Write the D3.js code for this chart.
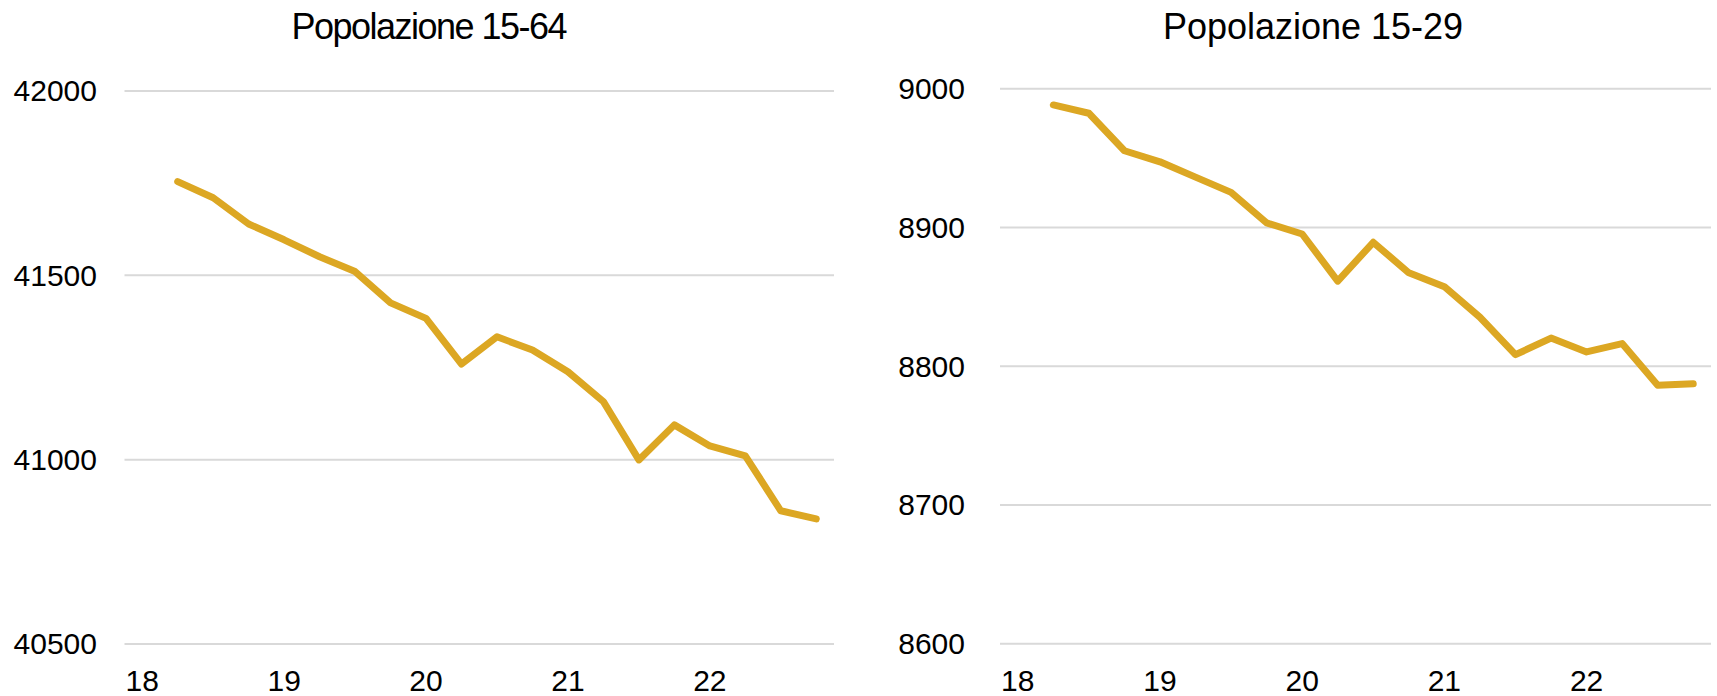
<!DOCTYPE html>
<html>
<head>
<meta charset="utf-8">
<script src="https://cdn.jsdelivr.net/npm/d3@7"></script>
<style>
  html, body { margin: 0; padding: 0; background: #fff; }
  svg text { font-family: "Liberation Sans", Arial, sans-serif; fill: #000; }
</style>
</head>
<body>
<svg id="chart" width="1717" height="696"></svg>
<script>
// quarterly categories, first quarter of 2018 has no value
var quarters = ["2018Q1","2018Q2","2018Q3","2018Q4","2019Q1","2019Q2","2019Q3","2019Q4",
                "2020Q1","2020Q2","2020Q3","2020Q4","2021Q1","2021Q2","2021Q3","2021Q4",
                "2022Q1","2022Q2","2022Q3","2022Q4"];
var yearTicks = ["2018Q1","2019Q1","2020Q1","2021Q1","2022Q1"];
var yearLabels = ["18","19","20","21","22"];

var pop1564 = [null, 41753, 41709, 41638, 41595, 41549, 41509, 41424, 41382, 41258,
               41332, 41296, 41237, 41156, 40998, 41093, 41036, 41009, 40860, 40838];
var pop1529 = [null, 8988, 8982, 8955, 8947, 8936, 8925, 8903, 8895, 8861,
               8889, 8867, 8857, 8835, 8808, 8820, 8810, 8816, 8786, 8787];

var ticks1564 = [40500, 41000, 41500, 42000];
var ticks1529 = [8600, 8700, 8800, 8900, 9000];

var lineColor = "#dca723";
var gridColor = "#d9d9d9";

var svg = d3.select("#chart");

var panels = [
    { title: "Popolazione 15-64", titleX: 429.5, titleW: 276, values: pop1564, ticks: ticks1564,
      left: 124.5, right: 834, top: 90.5, bottom: 643.5, labelGap: 27.5 },
    { title: "Popolazione 15-29", titleX: 1313, titleW: 300, values: pop1529, ticks: ticks1529,
      left: 1000, right: 1711, top: 88.3, bottom: 643.3, labelGap: 35 }
];

panels.forEach(function (p) {
    drawPanel(p);
});

function drawPanel(p) {
    var w = p.right - p.left;
    var g = svg.append("g").attr("transform", "translate(" + p.left + ",0)");

    var x = d3.scaleBand().domain(quarters).range([0, w]).padding(0);
    var y = d3.scaleLinear()
        .domain([d3.min(p.ticks), d3.max(p.ticks)])
        .range([p.bottom, p.top]);

    // horizontal grid
    g.append("g")
        .call(d3.axisLeft(y).tickValues(p.ticks).tickSize(-w).tickFormat(""))
        .call(function (a) { a.select(".domain").remove(); })
        .selectAll("line")
        .attr("stroke", gridColor)
        .attr("stroke-width", 2);

    // y labels
    g.append("g")
        .call(d3.axisLeft(y).tickValues(p.ticks).tickSize(0).tickPadding(p.labelGap).tickFormat(d3.format("d")))
        .call(function (a) { a.select(".domain").remove(); })
        .selectAll("text")
        .attr("dy", "0.34em")
        .style("font-size", "30px")
        .style("font-family", "'Liberation Sans', Arial, sans-serif")
        .attr("fill", "#000");

    // x labels (one per year)
    g.append("g")
        .attr("transform", "translate(0," + p.bottom + ")")
        .call(d3.axisBottom(x).tickValues(yearTicks).tickSize(0).tickPadding(26)
            .tickFormat(function (d) { return yearLabels[yearTicks.indexOf(d)]; }))
        .call(function (a) { a.select(".domain").remove(); })
        .selectAll("text")
        .style("font-size", "30px")
        .style("font-family", "'Liberation Sans', Arial, sans-serif")
        .attr("fill", "#000");

    var line = d3.line()
        .defined(function (d) { return d != null; })
        .x(function (d, i) { return x(quarters[i]) + x.bandwidth() / 2; })
        .y(function (d) { return y(d); });

    g.append("path")
        .datum(p.values)
        .attr("d", line)
        .attr("fill", "none")
        .attr("stroke", lineColor)
        .attr("stroke-width", 7)
        .attr("stroke-linejoin", "round")
        .attr("stroke-linecap", "round");

    svg.append("text")
        .attr("x", p.titleX)
        .attr("y", 39.3)
        .attr("text-anchor", "middle")
        .attr("textLength", p.titleW)
        .attr("lengthAdjust", "spacing")
        .style("font-size", "36px")
        .text(p.title);
}
</script>
</body>
</html>
